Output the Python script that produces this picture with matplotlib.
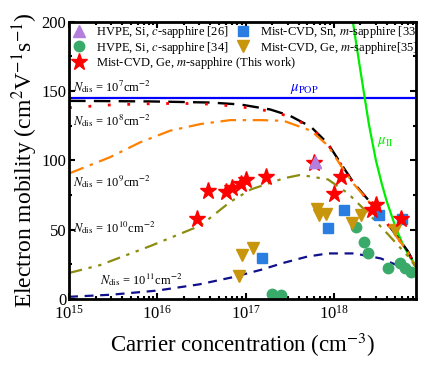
import matplotlib
matplotlib.use("Agg")
import matplotlib.pyplot as plt
from matplotlib.ticker import LogLocator, MultipleLocator, NullFormatter
import numpy as np

plt.rcParams['font.family'] = ['Liberation Serif', 'DejaVu Serif']
plt.rcParams['mathtext.fontset'] = 'stix'

# ---- measured data ----
tri_n = [6.2e17]
tri_mu = [98.6]

circ_n = [2.0e17, 2.5e17, 1.78e18, 2.2e18, 2.45e18, 4.1e18, 5.6e18, 6.4e18, 7.5e18]
circ_mu = [3.4, 2.9, 52, 41, 33, 22.5, 25.6, 22, 19.6]

star_n = [2.8e16, 3.8e16, 6.0e16, 7.1e16, 8.9e16, 1.02e17, 1.7e17, 5.9e17,
          1.2e18, 1.0e18, 3.0e18, 2.7e18, 5.75e18]
star_mu = [58, 78, 77, 80, 83, 85.5, 88, 98, 88, 76, 68, 64, 58]

sq_n = [1.55e17, 8.5e17, 1.29e18, 3.25e18, 5.9e18]
sq_mu = [29.2, 51.2, 64.4, 60.3, 58]

dtri_n = [9.1e16, 1.2e17, 8.5e16, 6.5e17, 6.8e17, 8.1e17, 2.05e18, 1.62e18, 4.9e18]
dtri_mu = [31.6, 36.4, 16.7, 65, 60.3, 61, 60.8, 54.4, 50]

# theoretical curves
pop_n = [1e15, 8.5e18]
pop_mu = [145, 145]

ii_n = [1.6e18, 2.0e18, 2.5e18, 3.0e18, 3.5e18, 4.0e18, 5.0e18, 6.0e18, 7.0e18, 8.5e18]
ii_mu = [205, 165, 126, 100, 83, 70, 52, 40, 32, 24]

d7_n = [1e15, 8.3e15, 4.0e16, 8.7e16, 1.9e17, 3.2e17, 5.5e17, 8.6e17, 1.2e18,
        1.7e18, 2.43e18, 3.42e18, 4.8e18, 6.9e18, 8.5e18]
d7_mu = [142.9, 142.5, 141.7, 140.3, 136.7, 132.1, 124.2, 112.0, 97.7,
         83.3, 71.8, 61.1, 48.1, 34.5, 23.7]

d8_n = [1e15, 3e15, 1e16, 3e16, 8e16, 1.9e17, 3.2e17, 5.5e17, 8.6e17, 1.2e18,
        1.7e18, 2.43e18, 3.42e18, 4.8e18, 6.9e18, 8.5e18]
d8_mu = [138, 140, 141, 141, 139, 135.5, 131.5, 123.7, 111.5, 97.2,
         82.8, 71.3, 60.6, 47.6, 34.0, 23.2]

d9_n = [1e15, 2.9e15, 6.4e15, 1.4e16, 3.1e16, 6.7e16, 1.5e17, 2.7e17, 5.5e17,
        8.6e17, 1.2e18, 1.7e18, 2.43e18, 3.42e18, 4.8e18, 6.9e18, 8.5e18]
d9_mu = [90.5, 102.2, 113, 121.4, 126.2, 129, 129, 128.5, 121.4,
         110.6, 96.2, 82.6, 71.1, 60.3, 47.4, 33.8, 23]

d10_n = [1e15, 2.25e15, 8.3e15, 3.1e16, 6.7e16, 1.15e17, 2.7e17, 4.2e17, 8.6e17,
         1.45e18, 2.45e18, 4.1e18, 6.9e18, 8.5e18]
d10_mu = [18.7, 24.4, 38.1, 53, 70, 79, 87, 89.5, 86.2,
          76.1, 61.8, 46.7, 30.9, 23]

d11_n = [1e15, 3e15, 1e16, 3e16, 7e16, 1.5e17, 2.7e17, 5e17, 8.6e17, 1.7e18,
         3.4e18, 5.75e18, 8.5e18]
d11_mu = [1.5, 3, 6, 10.5, 15.5, 21, 26, 30.5, 32.8, 32.8, 29.2, 23.2, 16]

ndis_labels = [r'$N_{\rm dis}$ = 10$^{7}$cm$^{-2}$', r'$N_{\rm dis}$ = 10$^{8}$cm$^{-2}$',
               r'$N_{\rm dis}$ = 10$^{9}$cm$^{-2}$', r'$N_{\rm dis}$ = 10$^{10}$cm$^{-2}$',
               r'$N_{\rm dis}$ = 10$^{11}$cm$^{-2}$']
ndis_pos = [(1.1e15, 153), (1.1e15, 128.5), (1.1e15, 84.5), (1.1e15, 51.5), (2.25e15, 13.6)]

fig = plt.figure(figsize=(4.4, 3.75), dpi=100)
ax = fig.add_axes([0.157, 0.203, 0.788, 0.739])

ax.plot(pop_n, pop_mu, color='#0000ff', lw=1.6)
ax.plot(ii_n, ii_mu, color='#00ee00', lw=1.6)
ax.plot(d7_n, d7_mu, color='black', lw=1.7, dashes=(7, 3.5))
ax.plot(d8_n, d8_mu, color='#ff0000', lw=2.0, dashes=(1, 6))
ax.plot(d9_n, d9_mu, color='#ff8000', lw=1.6, dashes=(7, 3, 1.5, 3))
ax.plot(d10_n, d10_mu, color='#8c8c10', lw=1.6, dashes=(6, 3, 1.5, 3, 1.5, 3))
ax.plot(d11_n, d11_mu, color='#10108c', lw=1.6, dashes=(4, 3))

h1, = ax.plot(tri_n, tri_mu, '^', color='#b57edc', ms=8, ls='none',
              label=r'HVPE, Si, $c$-sapphire [26]')
h2, = ax.plot(circ_n, circ_mu, 'o', color='#3aaa6a', ms=7.5, ls='none',
              label=r'HVPE, Si, $c$-sapphire [34]')
h4, = ax.plot(sq_n, sq_mu, 's', color='#2a7de1', ms=6.5, ls='none',
              label=r'Mist-CVD, Sn, $m$-sapphire [33]')
h5, = ax.plot(dtri_n, dtri_mu, 'v', color='#c8960c', ms=8, ls='none',
              label=r'Mist-CVD, Ge, $m$-sapphire[35]')
h3, = ax.plot(star_n, star_mu, '*', color='#ff0000', ms=12.5, ls='none',
              label=r'Mist-CVD, Ge, $m$-sapphire (This work)')
ax.plot(tri_n, tri_mu, '^', color='#b57edc', ms=8, ls='none')

for txt, (xp, yp) in zip(ndis_labels, ndis_pos):
    ax.text(xp, yp, txt, fontsize=9, va='center', ha='left')
ax.text(4.6e17, 151.5, r'$\mu_{\rm POP}$', color='#0000ff', fontsize=10.5, ha='center', va='center')
ax.text(3.8e18, 113, r'$\mu_{\rm II}$', color='#00ee00', fontsize=10.5, ha='center', va='center')

leg_kw = dict(frameon=False, fontsize=9, numpoints=1, handlelength=1.2,
              handletextpad=0.75, columnspacing=0.55, labelspacing=-0.05,
              borderpad=0.2, borderaxespad=0)
leg1 = ax.legend(handles=[h1, h2, h4, h5], ncol=2, loc='upper left',
                 bbox_to_anchor=(0.0, 1.0), **leg_kw)
for t in leg1.get_texts():
    t.set_clip_box(ax.bbox)
    t.set_clip_on(True)
ax.add_artist(leg1)
ax.legend(handles=[h3], loc='upper left', bbox_to_anchor=(0.0, 0.889), **leg_kw)

ax.set_xscale('log')
ax.set_xlim(1e15, 8.5e18)
ax.set_ylim(0, 200)
ax.xaxis.set_major_locator(LogLocator(base=10, numticks=10))
ax.xaxis.set_minor_locator(LogLocator(base=10, subs=np.arange(2, 10), numticks=20))
ax.xaxis.set_minor_formatter(NullFormatter())
ax.yaxis.set_major_locator(MultipleLocator(50))
ax.yaxis.set_minor_locator(MultipleLocator(25))

ax.tick_params(which='both', direction='in', top=True, right=True, width=1.5)
ax.tick_params(which='major', length=4, labelsize=12, pad=2)
ax.tick_params(axis='x', which='major', pad=4)
ax.tick_params(which='minor', length=2.5)
for s in ax.spines.values():
    s.set_linewidth(2)

ax.set_xlabel(r'Carrier concentration (cm$^{-3}$)', fontsize=16.5, labelpad=6)
ax.set_ylabel(r'Electron mobility (cm$^{2}$V$^{-1}$s$^{-1}$)', fontsize=17, labelpad=1)

fig.savefig('out.png', dpi=100)
